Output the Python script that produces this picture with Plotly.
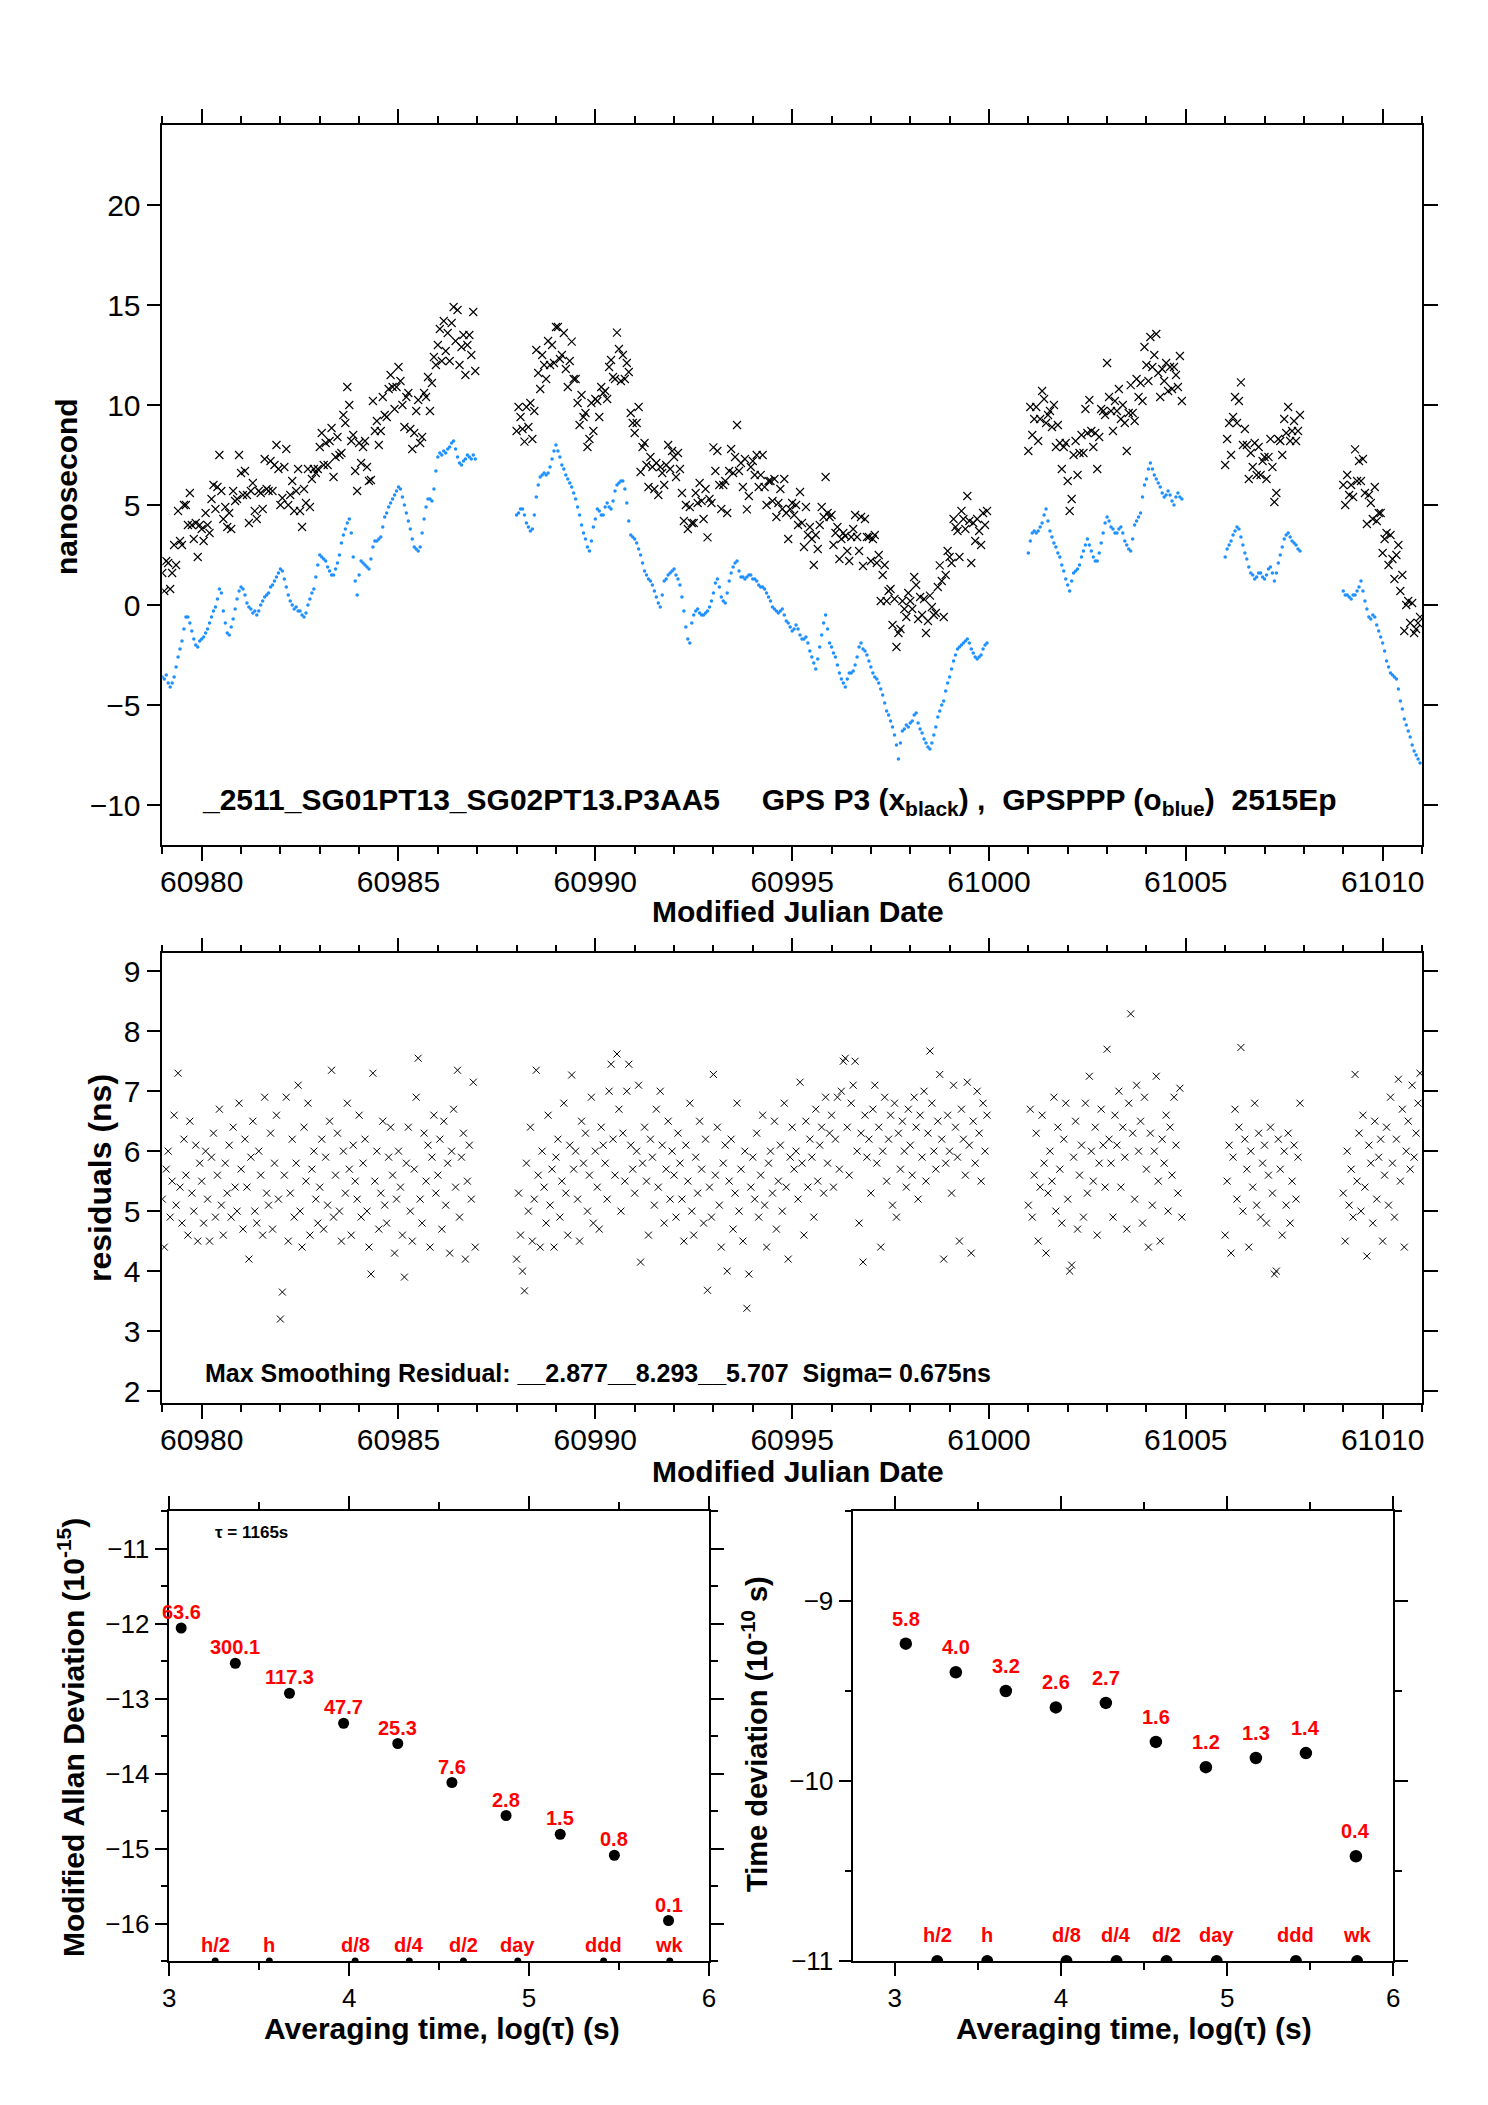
import plotly.graph_objects as go

# ---------------- data ----------------
STEP_DAYS = 0.05
SEGMENT_STARTS = [60979.0, 60988.0, 61001.0, 61006.0, 61009.0]

# GPSPPP (blue) time differences, ns
PPP_SEG1 = [
    -3.6, -3.7, -3.5, -3.9, -4.1, -3.9, -3.6, -3.1, -2.6, -2.2, -1.8, -1.2, -0.6, -0.6, -0.9, -1.3, -1.7, -2.0, -2.1, -1.8,
    -1.7, -1.6, -1.4, -1.2, -0.9, -0.6, -0.3, -0.1, 0.3, 0.8, 0.6, -0.3, -0.9, -1.4, -1.5, -1.1, -0.7, -0.2, 0.3, 0.7,
    0.9, 0.8, 0.5, 0.1, -0.1, -0.2, -0.4, -0.3, -0.5, -0.3, 0.0, 0.2, 0.4, 0.5, 0.6, 0.9, 1.0, 1.2, 1.4, 1.6,
    1.8, 1.7, 1.3, 0.9, 0.5, 0.2, 0.0, -0.2, -0.1, -0.3, -0.3, -0.5, -0.6, -0.4, 0.0, 0.3, 0.6, 0.8, 1.4, 2.0,
    2.5, 2.4, 2.3, 2.2, 1.9, 1.7, 1.5, 1.5, 1.8, 2.1, 2.5, 3.1, 3.5, 3.8, 4.1, 4.3, 3.6, 2.4, 1.2, 0.5,
    1.5, 2.2, 2.1, 2.0, 1.9, 1.8, 2.3, 2.9, 3.2, 3.2, 3.3, 3.4, 3.9, 4.4, 4.6, 4.9, 5.1, 5.3, 5.5, 5.7,
    5.9, 5.8, 5.4, 5.0, 4.6, 4.2, 3.8, 3.3, 2.9, 2.8, 2.7, 2.9, 3.6, 4.3, 4.9, 5.3, 5.3, 5.2, 5.8, 6.7,
    7.4, 7.6, 7.5, 7.7, 7.6, 7.8, 7.9, 8.1, 8.2, 7.8, 7.4, 7.1, 7.0, 7.2, 7.3, 7.5, 7.4, 7.3, 7.5, 7.3,
]
PPP_SEG2 = [
    4.5, 4.6, 4.8, 4.8, 4.5, 4.1, 3.9, 3.7, 3.8, 4.5, 5.4, 6.0, 6.4, 6.5, 6.6, 6.5, 6.6, 6.9, 7.3, 7.7,
    8.0, 7.7, 7.4, 7.0, 6.8, 6.5, 6.3, 6.1, 5.9, 5.6, 5.3, 4.9, 4.5, 4.0, 3.6, 3.3, 2.9, 2.7, 3.2, 3.9,
    4.3, 4.8, 4.7, 4.5, 4.5, 4.9, 5.1, 4.9, 4.8, 5.2, 5.7, 6.0, 6.1, 6.2, 6.2, 5.8, 5.1, 4.2, 3.5, 3.4,
    3.3, 3.1, 2.8, 2.5, 2.1, 1.7, 1.5, 1.3, 1.2, 1.0, 0.7, 0.4, 0.1, -0.1, 0.5, 1.2, 1.3, 1.5, 1.6, 1.7,
    1.8, 1.5, 1.3, 1.0, 0.4, -0.3, -1.1, -1.7, -1.9, -0.9, -0.5, -0.3, -0.2, -0.4, -0.5, -0.5, -0.4, -0.3, -0.1, 0.2,
    0.6, 1.1, 1.3, 0.9, 0.4, 0.2, 0.1, 0.6, 1.2, 1.6, 1.9, 2.1, 2.2, 1.7, 1.4, 1.4, 1.3, 1.4, 1.5, 1.5,
    1.3, 1.3, 1.2, 1.0, 0.9, 0.9, 0.8, 0.6, 0.4, 0.2, -0.1, -0.2, -0.3, -0.4, -0.3, -0.2, -0.5, -0.8, -0.9, -1.1,
    -1.3, -1.2, -1.0, -1.2, -1.5, -1.7, -1.7, -1.6, -1.9, -2.3, -2.6, -2.9, -3.2, -2.7, -2.1, -1.5, -0.9, -0.5, -1.2, -1.9,
    -2.1, -2.4, -2.6, -3.0, -3.4, -3.7, -3.9, -4.1, -3.7, -3.4, -3.4, -3.3, -3.0, -2.6, -2.1, -1.9, -2.2, -2.3, -2.5, -2.8,
    -3.1, -3.4, -3.6, -3.7, -3.9, -4.2, -4.5, -4.9, -5.3, -5.5, -5.8, -6.1, -6.5, -7.0, -7.7, -6.9, -6.3, -6.2, -6.0, -6.1,
    -5.9, -5.8, -5.5, -5.4, -5.9, -6.2, -6.4, -6.7, -6.9, -7.1, -7.2, -6.9, -6.5, -6.1, -5.6, -5.3, -5.0, -4.8, -4.3, -3.9,
    -3.6, -3.2, -2.8, -2.5, -2.2, -2.1, -2.0, -1.9, -1.8, -1.7, -1.9, -2.2, -2.4, -2.6, -2.7, -2.6, -2.5, -2.2, -2.0, -1.9,
]
PPP_SEG3 = [
    2.6, 3.2, 3.6, 3.7, 3.6, 3.7, 3.9, 4.1, 4.5, 4.8, 4.2, 3.7, 3.4, 3.1, 2.9, 2.6, 2.4, 2.0, 1.7, 1.3,
    1.0, 0.7, 1.2, 1.6, 1.7, 1.8, 2.0, 2.4, 2.7, 3.0, 3.3, 3.0, 2.7, 2.4, 2.2, 2.2, 2.6, 3.1, 3.6, 4.1,
    4.4, 4.2, 3.9, 3.8, 3.6, 3.6, 3.8, 3.9, 3.6, 3.2, 3.0, 2.8, 2.7, 3.3, 4.0, 4.2, 4.4, 4.6, 5.4, 6.0,
    6.3, 6.8, 7.1, 6.8, 6.5, 6.3, 6.1, 5.9, 5.6, 5.4, 5.5, 5.7, 5.5, 5.2, 5.0, 5.4, 5.6, 5.4, 5.3,
]
PPP_SEG4 = [
    2.4, 2.8, 3.0, 3.2, 3.5, 3.7, 3.9, 3.8, 3.4, 3.0, 2.6, 2.3, 1.9, 1.6, 1.5, 1.3, 1.4, 1.6, 1.6, 1.4,
    1.3, 1.5, 1.8, 1.9, 1.6, 1.2, 1.6, 2.1, 2.5, 2.9, 3.3, 3.5, 3.6, 3.4, 3.2, 3.1, 3.0, 2.8, 2.7,
]
PPP_SEG5 = [
    0.7, 0.5, 0.5, 0.4, 0.3, 0.5, 0.5, 0.7, 0.9, 1.2, 0.7, 0.2, -0.2, -0.6, -0.7, -0.5, -0.6, -1.0, -1.3, -1.6,
    -1.9, -2.3, -2.8, -3.1, -3.4, -3.5, -3.6, -3.7, -4.2, -4.8, -5.2, -5.7, -6.0, -6.3, -6.6, -7.0, -7.3, -7.5, -7.7, -7.9,
]

# smoothing residuals (GPS P3 - GPSPPP), ns
RESID_SEG1 = [
    5.2, 4.4, 5.7, 6.0, 4.9, 5.5, 6.6, 5.1, 7.3, 5.4, 4.8, 6.2, 5.6, 4.6, 6.5, 5.3, 5.0, 6.1, 4.5, 5.8,
    5.5, 4.8, 6.0, 5.2, 4.5, 5.9, 6.3, 4.9, 5.6, 6.7, 5.1, 4.6, 5.8, 5.3, 6.1, 4.9, 6.4, 5.4, 5.0, 6.8,
    5.7, 4.7, 6.2, 5.4, 4.2, 5.9, 6.5, 5.0, 4.8, 6.0, 5.6, 4.6, 6.9, 5.3, 5.1, 6.3, 4.7, 5.8, 6.6, 5.2,
    3.2, 3.65, 5.6, 6.9, 4.5, 5.3, 6.2, 4.9, 5.8, 7.1, 5.0, 4.4, 6.4, 5.5, 6.8, 4.6, 5.7, 6.0, 5.2, 4.8,
    5.4, 6.2, 4.7, 5.9, 5.1, 6.5, 7.35, 4.9, 5.6, 6.3, 5.0, 4.5, 6.0, 5.3, 6.8, 5.7, 4.6, 6.1, 5.5, 5.2,
    6.6, 4.9, 5.8, 6.2, 5.0, 4.4, 3.95, 7.3, 5.5, 6.0, 4.7, 5.3, 6.5, 5.1, 4.8, 5.9, 6.4, 5.6, 4.3, 5.2,
    6.0, 5.4, 4.6, 3.9, 5.8, 6.4, 5.0, 4.5, 5.7, 6.9, 7.55, 5.2, 4.8, 6.3, 5.5, 6.1, 4.4, 5.9, 6.6, 5.3,
    5.6, 6.2, 4.7, 6.5, 5.1, 5.8, 4.3, 6.0, 6.7, 5.4, 7.35, 4.9, 5.9, 6.3, 4.2, 5.5, 6.1, 5.2, 7.15, 4.4,
]
RESID_SEG2 = [
    4.2, 5.3, 4.6, 4.0, 3.67, 5.8, 5.0, 6.4, 4.5, 5.2, 7.35, 5.6, 4.4, 6.0, 5.4, 4.8, 6.6, 5.1, 5.7, 4.4,
    5.9, 6.2, 4.9, 5.5, 6.8, 5.3, 4.6, 6.1, 7.27, 5.7, 6.0, 5.2, 4.5, 6.5, 5.8, 6.3, 5.0, 5.6, 6.9, 4.8,
    6.0, 5.4, 4.7, 6.4, 6.1, 5.8, 5.2, 7.0, 7.45, 6.2, 5.6, 7.62, 6.7, 5.0, 6.3, 5.5, 7.0, 7.45, 6.1, 5.7,
    5.3, 6.0, 7.1, 4.15, 5.8, 6.4, 5.5, 4.6, 6.2, 5.9, 5.1, 6.7, 5.4, 7.0, 6.1, 4.8, 5.7, 6.5, 5.2, 6.0,
    5.6, 4.9, 6.3, 5.8, 5.2, 4.5, 6.1, 5.5, 6.8, 5.0, 4.6, 5.9, 5.3, 6.5, 5.7, 4.8, 6.2, 3.68, 5.4, 4.9,
    7.28, 5.6, 6.4, 5.1, 4.4, 5.8, 6.1, 4.0, 5.5, 6.2, 4.7, 5.3, 6.8, 5.0, 5.7, 4.5, 6.0, 3.38, 3.95, 5.4,
    5.9, 5.2, 6.3, 4.9, 5.6, 6.6, 5.1, 4.4, 5.8, 6.0, 5.3, 6.5, 4.7, 5.5, 6.1, 5.0, 6.8, 5.4, 4.2, 5.9,
    6.4, 5.7, 6.0, 5.2, 7.15, 5.8, 4.6, 6.5, 5.4, 6.2, 5.9, 4.9, 6.7, 5.5, 6.1, 6.4, 5.3, 6.9, 5.8, 6.3,
    6.6, 5.4, 6.2, 6.9, 5.7, 7.0, 7.5, 7.55, 6.4, 5.6, 6.8, 7.1, 7.5, 6.0, 4.8, 6.3, 4.15, 6.6, 5.9, 6.2,
    5.3, 6.7, 7.1, 5.8, 6.4, 4.4, 6.0, 6.9, 5.5, 6.2, 6.6, 5.1, 6.8, 4.9, 6.3, 5.7, 6.5, 6.0, 5.4, 6.7,
    6.1, 5.6, 6.9, 6.4, 5.2, 6.6, 5.9, 7.0, 5.5, 6.3, 7.67, 6.8, 6.0, 5.7, 6.5, 7.28, 6.2, 4.2, 5.8, 6.6,
    6.0, 5.3, 7.1, 6.4, 5.9, 4.5, 6.7, 6.2, 5.6, 7.15, 6.1, 4.3, 6.5, 5.8, 7.0, 6.3, 5.5, 6.8, 6.0, 6.6,
]
RESID_SEG3 = [
    5.1, 6.7, 4.9, 5.6, 6.3, 4.5, 5.4, 6.6, 5.8, 4.3, 5.3, 6.0, 5.5, 6.9, 5.0, 6.4, 5.7, 4.8, 6.2, 6.8,
    5.2, 4.0, 4.1, 5.9, 6.5, 4.7, 5.6, 6.1, 4.9, 6.8, 5.3, 7.25, 6.0, 5.5, 6.4, 4.6, 5.8, 6.7, 6.1, 5.4,
    7.7, 6.2, 5.8, 4.9, 6.6, 6.1, 7.0, 5.4, 6.4, 5.9, 4.7, 6.8, 8.29, 6.3, 5.2, 7.1, 6.0, 6.5, 4.8, 6.9,
    5.7, 4.4, 6.3, 5.1, 6.0, 7.25, 5.5, 4.5, 6.2, 5.8, 6.6, 5.0, 6.4, 5.6, 6.9, 6.1, 5.3, 7.05, 4.9,
]
RESID_SEG4 = [
    4.6, 5.5, 6.1, 4.3, 5.9, 6.7, 5.2, 6.4, 7.73, 5.0, 6.2, 5.7, 4.4, 6.0, 5.4, 6.8, 5.1, 6.3, 4.9, 5.8,
    6.1, 4.8, 5.6, 6.4, 5.3, 3.95, 4.0, 6.2, 5.7, 4.6, 6.0, 5.1, 6.3, 4.8, 5.5, 6.1, 5.2, 5.9, 6.8,
]
RESID_SEG5 = [
    5.3, 4.5, 6.0, 5.1, 5.7, 4.9, 7.28, 5.5, 6.3, 5.0, 6.6, 5.4, 4.25, 6.1, 5.8, 4.8, 6.5, 5.2, 5.9, 6.2,
    4.5, 5.6, 6.4, 5.1, 6.9, 5.8, 4.9, 6.2, 7.2, 5.5, 6.7, 4.4, 6.0, 6.5, 5.7, 7.1, 5.9, 6.3, 6.8, 7.3,
]

PPP_SEGMENTS = [PPP_SEG1, PPP_SEG2, PPP_SEG3, PPP_SEG4, PPP_SEG5]
RESID_SEGMENTS = [RESID_SEG1, RESID_SEG2, RESID_SEG3, RESID_SEG4, RESID_SEG5]

# stability analysis
TAU_LOG = [3.066, 3.367, 3.668, 3.969, 4.270, 4.571, 4.872, 5.173, 5.474, 5.775]
MDEV_LOG = [-12.06, -12.53, -12.93, -13.33, -13.60, -14.12, -14.56, -14.81, -15.09, -15.96]
MDEV_LABELS = ["63.6", "300.1", "117.3", "47.7", "25.3", "7.6", "2.8", "1.5", "0.8", "0.1"]
TDEV_LOG = [-9.237, -9.396, -9.500, -9.591, -9.566, -9.783, -9.923, -9.872, -9.845, -10.418]
TDEV_LABELS = ["5.8", "4.0", "3.2", "2.6", "2.7", "1.6", "1.2", "1.3", "1.4", "0.4"]
MARK_LOG = [3.255, 3.556, 4.033, 4.334, 4.635, 4.937, 5.414, 5.782]
MARK_LABELS = ["h/2", "h", "d/8", "d/4", "d/2", "day", "ddd", "wk"]

TITLE_TOP = ("_2511_SG01PT13_SG02PT13.P3AA5\u00a0\u00a0\u00a0\u00a0\u00a0GPS P3 (x<sub>black</sub>)\u00a0,"
             "\u00a0\u00a0GPSPPP (o<sub>blue</sub>)\u00a0\u00a02515Ep")
TITLE_MID = "Max Smoothing Residual: __2.877__8.293__5.707\u00a0\u00a0Sigma= 0.675ns"

# ---------------- build series ----------------
mjd, ppp, p3, resid = [], [], [], []
for start, pv, rv in zip(SEGMENT_STARTS, PPP_SEGMENTS, RESID_SEGMENTS):
    n = min(len(pv), len(rv))
    for i in range(n):
        mjd.append(round(start + STEP_DAYS * i, 4))
        ppp.append(pv[i])
        resid.append(rv[i])
        p3.append(round(pv[i] + rv[i], 3))

FONT = "Liberation Sans, Arial, Helvetica, sans-serif"
BLUE = "#1E90FF"
RED = "#FF0000"
W, H = 1488, 2105
OFF = 8  # page body margin of the browser


def px(x):
    return (x - OFF) / W


def py(y):
    return 1 - (y - OFF) / H


fig = go.Figure()

fig.add_trace(go.Scatter(x=mjd, y=p3, mode="markers", xaxis="x", yaxis="y",
                         marker=dict(symbol="x-thin", size=8, line=dict(width=1.1, color="black"))))
fig.add_trace(go.Scatter(x=mjd, y=ppp, mode="markers", xaxis="x", yaxis="y",
                         marker=dict(symbol="circle", size=3.5, color=BLUE)))
fig.add_trace(go.Scatter(x=mjd, y=resid, mode="markers", xaxis="x2", yaxis="y2",
                         marker=dict(symbol="x-thin", size=7, line=dict(width=1, color="black"))))

fig.add_trace(go.Scatter(x=TAU_LOG, y=MDEV_LOG, mode="markers", xaxis="x3", yaxis="y3",
                         marker=dict(size=11, color="black")))
fig.add_trace(go.Scatter(x=MARK_LOG, y=[-16.5] * len(MARK_LOG), mode="markers", xaxis="x3", yaxis="y3",
                         marker=dict(size=7, color="black")))
fig.add_trace(go.Scatter(x=TAU_LOG, y=TDEV_LOG, mode="markers", xaxis="x4", yaxis="y4",
                         marker=dict(size=12.5, color="black")))
fig.add_trace(go.Scatter(x=MARK_LOG, y=[-11.0] * len(MARK_LOG), mode="markers", xaxis="x4", yaxis="y4",
                         marker=dict(size=12, color="black")))


def axis(domain, rng, dtick, tick0, anchor, minor=None, ticklen=14, fsize=30):
    d = dict(domain=domain, range=rng, dtick=dtick, tick0=tick0, anchor=anchor,
             showline=True, linecolor="black", linewidth=1.5, mirror="allticks",
             ticks="outside", ticklen=ticklen, tickwidth=2, tickcolor="black",
             showgrid=False, zeroline=False, tickformat="d",
             tickfont=dict(family=FONT, size=fsize, color="black"))
    if minor is not None:
        d["minor"] = dict(dtick=minor, tick0=tick0, ticks="outside", ticklen=7,
                          tickwidth=2, tickcolor="black", showgrid=False)
    return d


# panel boxes in page pixels
XD_TOP = [px(162.3), px(1422)]
YD_TOP = [py(845), py(125)]
YD_MID = [py(1403), py(953.3)]
XD_BL = [px(169.3), px(709)]
XD_BR = [px(853.3), px(1393.3)]
YD_BOT = [py(1961), py(1511)]

fig.update_layout(
    width=W, height=H,
    margin=dict(l=0, r=0, t=0, b=0, autoexpand=False),
    paper_bgcolor="white", plot_bgcolor="white",
    showlegend=False,
    xaxis=axis(XD_TOP, [60979, 61011], 5, 60980, "y", minor=1),
    yaxis=axis(YD_TOP, [-12, 24], 5, 0, "x"),
    xaxis2=axis(XD_TOP, [60979, 61011], 5, 60980, "y2", minor=1),
    yaxis2=axis(YD_MID, [1.8, 9.3], 1, 0, "x2"),
    xaxis3=axis(XD_BL, [3, 6], 1, 0, "y3", minor=0.5, ticklen=13, fsize=26),
    yaxis3=axis(YD_BOT, [-16.5, -10.5], 1, 0, "x3", minor=0.5, ticklen=13, fsize=26),
    xaxis4=axis(XD_BR, [2.75, 6], 1, 0, "y4", minor=0.5, ticklen=13, fsize=26),
    yaxis4=axis(YD_BOT, [-11, -8.5], 1, 0, "x4", minor=0.5, ticklen=13, fsize=26),
)

# pull the date tick labels slightly closer to the axis
try:
    fig.update_layout(xaxis_ticklabelstandoff=-5, xaxis2_ticklabelstandoff=-5)
except Exception:
    pass

ann = []


def text(x, y, t, size, angle=0, xanchor="center", xref="paper", yref="paper", color="black",
         yshift=0, weight="bold"):
    ann.append(dict(x=x, y=y, xref=xref, yref=yref, text=t, showarrow=False, textangle=angle,
                    xanchor=xanchor, yanchor="middle", yshift=yshift,
                    font=dict(family=FONT, size=size, color=color, weight=weight)))


# axis titles (positions in page pixels)
text(px(66), py(487), "nanosecond", 30, angle=-90)
text(px(798), py(912), "Modified Julian Date", 30)
text(px(100), py(1178), "residuals (ns)", 32, angle=-90)
text(px(798), py(1471), "Modified Julian Date", 30)
text(px(71), py(1738), "Modified Allan Deviation (10<sup>-15</sup>)", 30, angle=-90)
text(px(755), py(1734), "Time deviation (10<sup>-10</sup> s)", 29, angle=-90)
text(px(442), py(2028), "Averaging time, log(\u03c4) (s)", 30)
text(px(1134), py(2028), "Averaging time, log(\u03c4) (s)", 30)

# in-panel texts
text(px(200), py(801), TITLE_TOP, 30, xanchor="left")
text(px(203), py(1373), TITLE_MID, 25, xanchor="left")
text(px(213), py(1532), "\u03c4 = 1165s", 17, xanchor="left")

# point labels
for x, y, t in zip(TAU_LOG, MDEV_LOG, MDEV_LABELS):
    text(x, y, t, 20, xref="x3", yref="y3", color=RED, yshift=16)
for x, t in zip(MARK_LOG, MARK_LABELS):
    text(x, -16.5, t, 20, xref="x3", yref="y3", color=RED, yshift=16)
for x, y, t in zip(TAU_LOG, TDEV_LOG, TDEV_LABELS):
    text(x, y, t, 20, xref="x4", yref="y4", color=RED, yshift=25)
for x, t in zip(MARK_LOG, MARK_LABELS):
    text(x, -11.0, t, 20, xref="x4", yref="y4", color=RED, yshift=26)

fig.update_layout(annotations=ann)

fig.write_html("out.html")
